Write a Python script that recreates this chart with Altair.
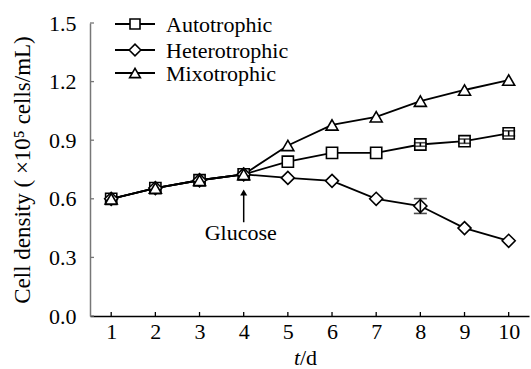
import altair as alt
import pandas as pd

days = [1, 2, 3, 4, 5, 6, 7, 8, 9, 10]
series_names = ["Autotrophic", "Heterotrophic", "Mixotrophic"]
autotrophic = [0.60, 0.655, 0.695, 0.725, 0.79, 0.835, 0.835, 0.878, 0.895, 0.935]
heterotrophic = [0.60, 0.655, 0.695, 0.725, 0.707, 0.692, 0.60, 0.563, 0.45, 0.385]
mixotrophic = [0.60, 0.655, 0.695, 0.725, 0.873, 0.978, 1.02, 1.10, 1.157, 1.208]
auto_err = [0.0, 0.0, 0.0, 0.0, 0.0, 0.0, 0.0, 0.009, 0.011, 0.013]
hetero_err = [0.0, 0.0, 0.0, 0.0, 0.0, 0.0, 0.0, 0.038, 0.0, 0.0]
mixo_err = [0.0, 0.0, 0.0, 0.0, 0.0, 0.0, 0.0, 0.0, 0.0, 0.0]
y_ticks = [0.0, 0.3, 0.6, 0.9, 1.2, 1.5]
x_ticks = days
glucose_day = [4]
arrow_from = [0.48]
arrow_to = [0.632]
glucose_text_y = [0.425]

rows = []
for name, vals, errs in [("Autotrophic", autotrophic, auto_err),
                         ("Heterotrophic", heterotrophic, hetero_err),
                         ("Mixotrophic", mixotrophic, mixo_err)]:
    for d, v, e in zip(days, vals, errs):
        rows.append({"day": d, "series": name, "value": v, "lo": v - e, "hi": v + e, "err": e})
df = pd.DataFrame(rows)
df_err = df[df["err"] > 0]

FONT = "Liberation Serif, Times New Roman, DejaVu Serif, serif"
FS = 22
shape_range = ["square", "diamond", "triangle-up"]
shape_sizes = {"Autotrophic": 125, "Heterotrophic": 170, "Mixotrophic": 144}
Y_TITLE = "Cell density ( ×10⁵ cells/mL)"

x_scale = alt.Scale(domain=[0.52, 10.46], nice=False, zero=False)
y_scale = alt.Scale(domain=[0.0, 1.5], nice=False)

x_axis = alt.Axis(values=x_ticks, format="d", title=None, ticks=False,
                  labelFont=FONT, labelFontSize=FS, labelColor="black",
                  labelPadding=5, domainColor="black", domainWidth=1.5, grid=False)
y_axis = alt.Axis(values=y_ticks, format=".1f", title=Y_TITLE,
                  titleFont=FONT, titleFontSize=23, titleFontWeight="normal",
                  titleColor="black", titlePadding=14,
                  ticks=False, labelFont=FONT, labelFontSize=FS,
                  labelColor="black", labelPadding=14,
                  domainColor="#777777", domainWidth=1.5, grid=False)


def X(field):
    return alt.X(field, scale=x_scale, axis=x_axis)


def Y(field):
    return alt.Y(field, scale=y_scale, axis=y_axis, title=Y_TITLE)


lines = alt.Chart(df).mark_line(color="black", strokeWidth=1.8).encode(
    x=X("day:Q"), y=Y("value:Q"), detail="series:N")

points = []
for i, name in enumerate(series_names):
    points.append(
        alt.Chart(df[df["series"] == name]).mark_point(
            shape=shape_range[i], size=shape_sizes[name], filled=False,
            fill="white", fillOpacity=1, stroke="black", strokeWidth=1.6, opacity=1
        ).encode(x=X("day:Q"), y=Y("value:Q"))
    )

errbars = alt.Chart(df_err).mark_errorbar(
    ticks=alt.MarkConfig(size=13, color="black", strokeWidth=2),
    color="black", thickness=1.6).encode(
    x=X("day:Q"), y=Y("lo:Q"), y2="hi:Q")

# inward tick marks
ytick_df = pd.DataFrame({"v": y_ticks})
ytick_layer = alt.Chart(ytick_df).mark_rule(color="#777777", strokeWidth=1.3).encode(
    y=Y("v:Q"), x=alt.value(0), x2=alt.value(4))
xtick_df = pd.DataFrame({"d": x_ticks})
xtick_layer = alt.Chart(xtick_df).mark_rule(color="black", strokeWidth=1.3).encode(
    x=X("d:Q"), y=alt.value(293), y2=alt.value(289))

# glucose annotation
ann_df = pd.DataFrame({"day": glucose_day, "a0": arrow_from, "a1": arrow_to,
                       "ty": glucose_text_y, "label": ["Glucose"]})
arrow_line = alt.Chart(ann_df).mark_rule(color="black", strokeWidth=1.5).encode(
    x=X("day:Q"), y=Y("a0:Q"), y2="a1:Q")
arrow_head = alt.Chart(ann_df).mark_point(shape="triangle-up", filled=True, color="black",
                                          size=50, opacity=1).encode(
    x=X("day:Q"), y=Y("a1:Q"))
arrow_text = alt.Chart(ann_df).mark_text(font=FONT, fontSize=FS, color="black",
                                         baseline="middle", align="center", dx=-3).encode(
    x=X("day:Q"), y=Y("ty:Q"), text="label:N")

# manual legend
legend_layers = []
leg_y = [1, 27, 50]
for i, name in enumerate(series_names):
    ldf = pd.DataFrame({"series": [name]})
    legend_layers.append(alt.Chart(ldf).mark_rule(color="black", strokeWidth=1.8).encode(
        x=alt.value(25), x2=alt.value(65), y=alt.value(leg_y[i])))
    legend_layers.append(alt.Chart(ldf).mark_point(
        shape=shape_range[i], size=shape_sizes[name] * 0.8, filled=False, fill="white",
        fillOpacity=1, stroke="black", strokeWidth=1.6, opacity=1).encode(
        x=alt.value(45), y=alt.value(leg_y[i])))
    legend_layers.append(alt.Chart(ldf).mark_text(
        font=FONT, fontSize=FS, color="black", align="left", baseline="middle").encode(
        x=alt.value(76), y=alt.value(leg_y[i] + 1), text="series:N"))

# x-axis title t/d
tdf = pd.DataFrame({"a": ["t"], "b": ["/d"]})
t_text = alt.Chart(tdf).mark_text(font=FONT, fontSize=FS, fontStyle="italic", color="black",
                                  align="right", baseline="alphabetic").encode(
    x=alt.value(210), y=alt.value(342), text="a:N")
d_text = alt.Chart(tdf).mark_text(font=FONT, fontSize=FS, color="black",
                                  align="left", baseline="alphabetic").encode(
    x=alt.value(210), y=alt.value(342), text="b:N")

chart = alt.layer(
    lines, *points, errbars, ytick_layer, xtick_layer,
    arrow_line, arrow_head, arrow_text, *legend_layers, t_text, d_text
).properties(
    width=439, height=293,
    autosize=alt.AutoSizeParams(type="none"),
    padding={"left": 90, "top": 23, "right": 2, "bottom": 53},
    background="white"
).configure_view(stroke=None)

chart.save("out.html", embed_options={"renderer": "svg", "actions": False})
